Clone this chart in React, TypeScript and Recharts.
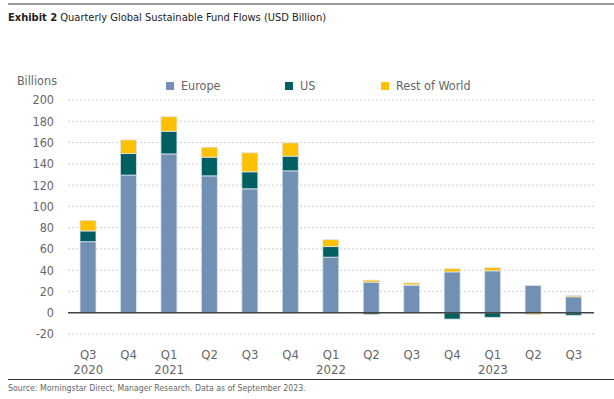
import { Bar, BarChart, CartesianGrid, ReferenceLine, XAxis, YAxis } from "recharts"

const QUARTERS = ["Q3", "Q4", "Q1", "Q2", "Q3", "Q4", "Q1", "Q2", "Q3", "Q4", "Q1", "Q2", "Q3"]
const YEARS = ["2020", "", "2021", "", "", "", "2022", "", "", "", "2023", "", ""]
const EUROPE = [66.8, 129.4, 149.3, 128.7, 116.5, 133.4, 52.2, 28.7, 25.9, 38.4, 39.4, 25.6, 15]
const US = [10.1, 20.3, 21.3, 17.5, 16, 13.8, 10, -1.6, 0.4, -6, -4.4, 0, -2.5]
const ROW = [9.9, 12.8, 13.7, 9.4, 17.8, 12.5, 6.5, 1.9, 1.8, 3.1, 3.1, -1.6, 1.2]
const Y_TICKS = [-20, 0, 20, 40, 60, 80, 100, 120, 140, 160, 180, 200]

const FONT = "'Liberation Sans Narrow', 'DejaVu Sans Condensed', Roboto, sans-serif"
const INK = "#666"

const SERIES = [
  { key: "europe", name: "Europe", color: "#7290b4" },
  { key: "us", name: "US", color: "#005f60" },
  { key: "row", name: "Rest of World", color: "#ffc000" },
]

const data = QUARTERS.map((q, i) => ({
  q,
  year: YEARS[i],
  europe: EUROPE[i],
  us: US[i],
  row: ROW[i],
}))

function QuarterTick({ x, y, payload }: any) {
  const year = YEARS[payload.index]
  return (
    <g>
      <text x={x} y={y + 23} textAnchor="middle" fill={INK} fontSize={13} fontFamily={FONT}>
        {payload.value}
      </text>
      {year ? (
        <text x={x} y={y + 38} textAnchor="middle" fill={INK} fontSize={13} fontFamily={FONT}>
          {year}
        </text>
      ) : null}
    </g>
  )
}

function LegendRow() {
  const lefts = [166, 285, 381]
  return (
    <>
      {SERIES.map((s, i) => (
        <div
          key={s.key}
          style={{
            position: "absolute",
            left: lefts[i],
            top: 78,
            display: "flex",
            alignItems: "center",
            gap: 7,
            fontFamily: FONT,
            fontSize: 12.5,
            color: INK,
          }}
        >
          <span style={{ display: "inline-block", width: 8, height: 8, background: s.color }} />
          <span>{s.name}</span>
        </div>
      ))}
    </>
  )
}

export default function App() {
  return (
    <div style={{ position: "relative", width: 614, height: 399, background: "#fff", overflow: "hidden" }}>
      <style>{`body{margin:0}`}</style>
      <div style={{ position: "absolute", left: 8, right: 0, top: 3, height: 2, background: "#9a9a9a" }} />
      <div
        style={{
          position: "absolute",
          left: 8,
          top: 11,
          fontFamily: FONT,
          fontSize: 11,
          color: "#222",
          whiteSpace: "nowrap",
        }}
      >
        <b>Exhibit 2</b> Quarterly Global Sustainable Fund Flows (USD Billion)
      </div>
      <div
        style={{
          position: "absolute",
          right: 614 - 57,
          top: 73,
          fontFamily: FONT,
          fontSize: 12.5,
          color: INK,
        }}
      >
        Billions
      </div>
      <div style={{ position: "absolute", left: 0, top: 0 }}>
        <BarChart
          width={614}
          height={399}
          data={data}
          stackOffset="sign"
          barSize={16}
          margin={{ top: 100, right: 20, bottom: 0, left: 0 }}
        >
          <CartesianGrid vertical={false} stroke="#cfcfcf" strokeDasharray="2 2" />
          <XAxis
            dataKey="q"
            axisLine={false}
            tickLine={false}
            tickSize={0}
            height={65}
            interval={0}
            tick={<QuarterTick />}
          />
          <YAxis
            width={68}
            domain={[-20, 200]}
            ticks={Y_TICKS}
            interval={0}
            axisLine={false}
            tickLine={false}
            tickSize={0}
            tickMargin={14}
            tick={{ fill: INK, fontSize: 12.5, fontFamily: FONT }}
          />
          {SERIES.map((s) => (
            <Bar
              key={s.key}
              dataKey={s.key}
              name={s.name}
              stackId="a"
              fill={s.color}
              stroke="#dde4ee"
              strokeWidth={0.8}
              isAnimationActive={false}
            />
          ))}
          <ReferenceLine y={0} stroke="#444" strokeWidth={1.5} />
        </BarChart>
      </div>
      <LegendRow />
      <div style={{ position: "absolute", left: 8, right: 0, top: 379, height: 1, background: "#333" }} />
      <div
        style={{
          position: "absolute",
          left: 8,
          top: 383,
          fontFamily: FONT,
          fontSize: 8.7,
          color: INK,
          whiteSpace: "nowrap",
        }}
      >
        Source: Morningstar Direct, Manager Research. Data as of September 2023.
      </div>
    </div>
  )
}
